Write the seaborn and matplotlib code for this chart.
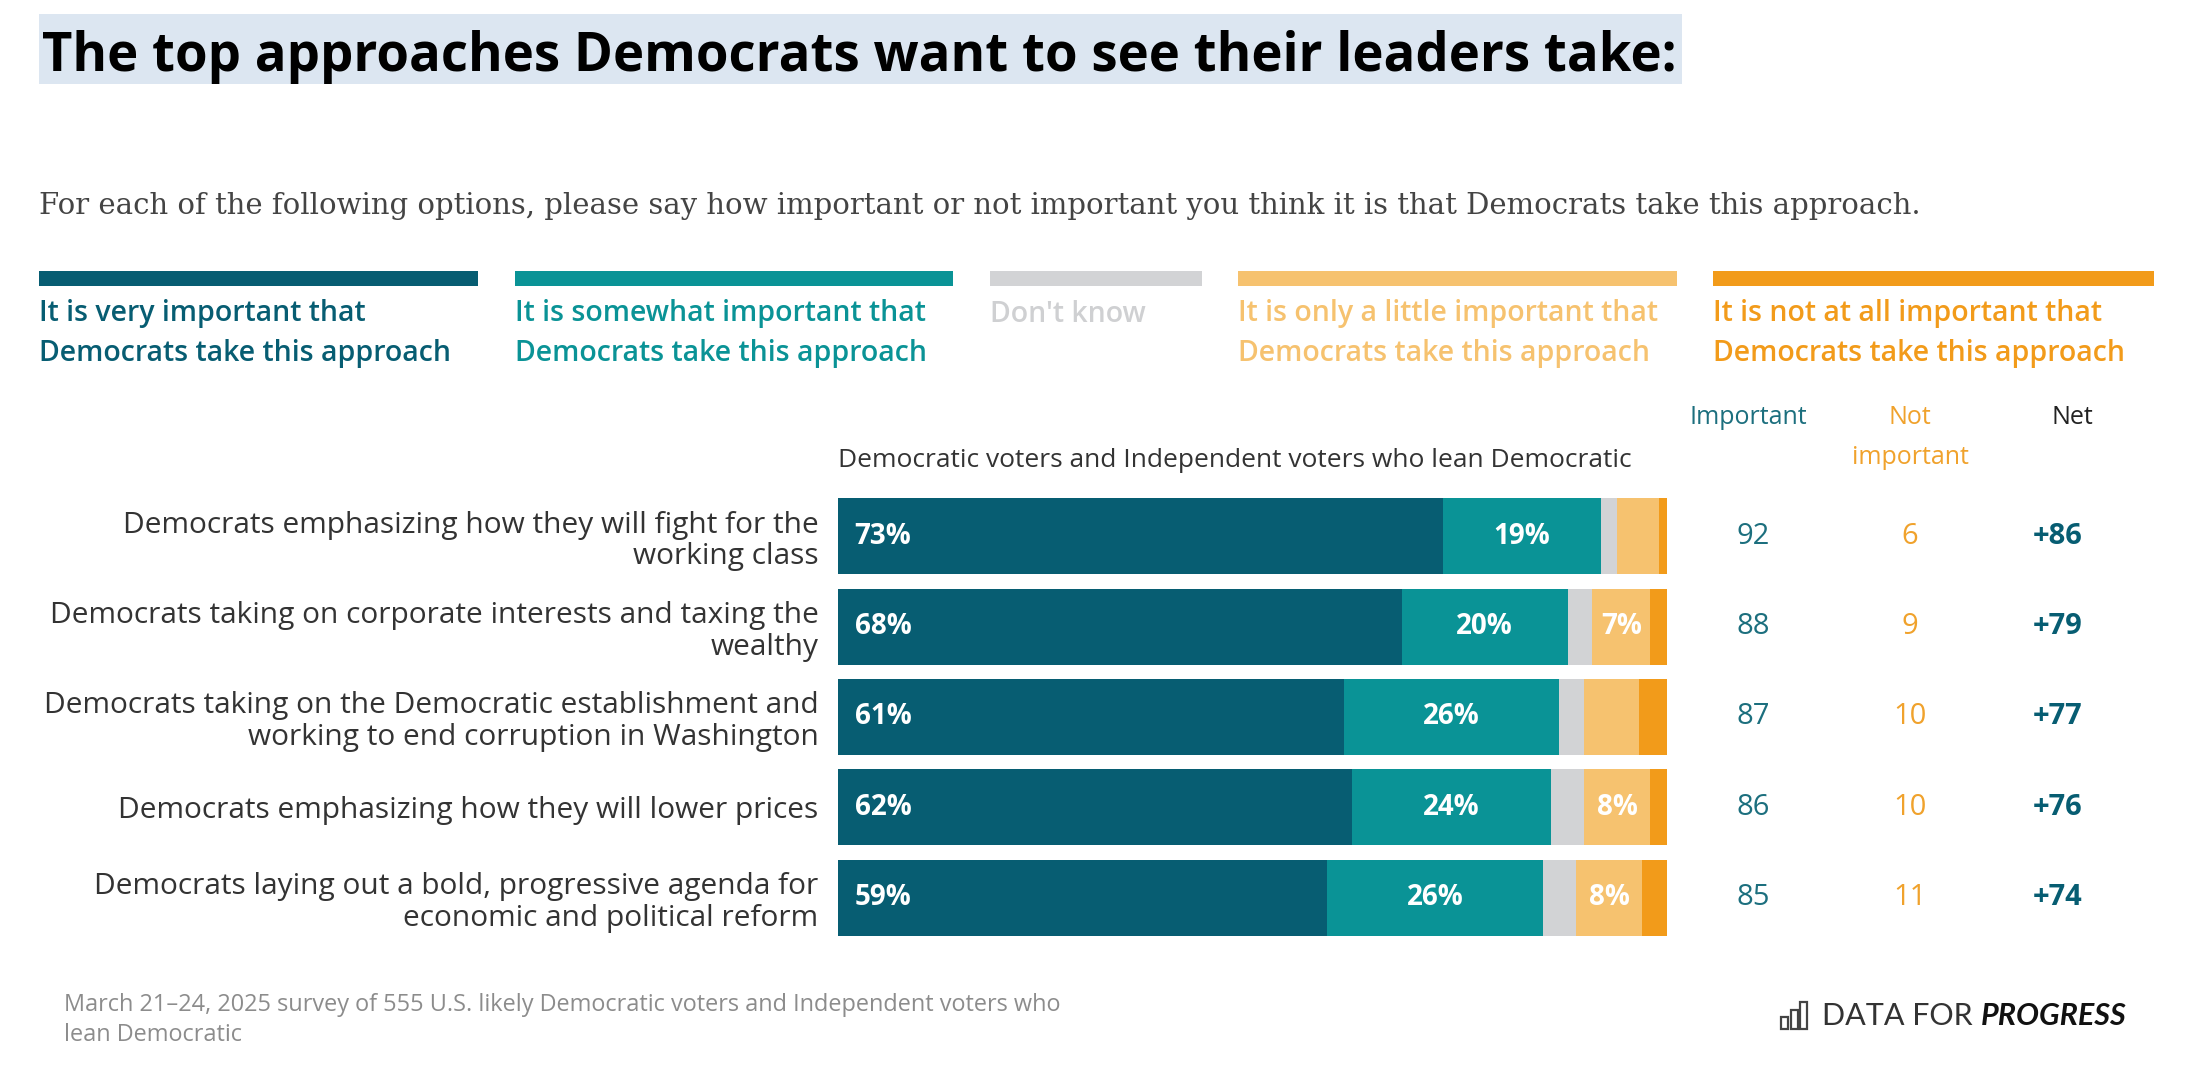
import matplotlib
matplotlib.use("Agg")
import matplotlib.pyplot as plt
import matplotlib.transforms as mtransforms
from matplotlib.patches import Rectangle
import numpy as np
import pandas as pd
import seaborn as sns

# ---------------------------------------------------------------------------
# data
# ---------------------------------------------------------------------------
categories = [
    "Democrats emphasizing how they will fight for the\nworking class",
    "Democrats taking on corporate interests and taxing the\nwealthy",
    "Democrats taking on the Democratic establishment and\nworking to end corruption in Washington",
    "Democrats emphasizing how they will lower prices",
    "Democrats laying out a bold, progressive agenda for\neconomic and political reform",
]
very_important = [73, 68, 61, 62, 59]
somewhat_important = [19, 20, 26, 24, 26]
dont_know = [2, 3, 3, 4, 4]
little_important = [5, 7, 6.6, 8, 8]
not_at_all = [1, 2, 3.4, 2, 3]

important_total = [92, 88, 87, 86, 85]
not_important_total = [6, 9, 10, 10, 11]
net = ["+86", "+79", "+77", "+76", "+74"]

legend_labels = [
    ("It is very important that", "Democrats take this approach"),
    ("It is somewhat important that", "Democrats take this approach"),
    ("Don't know", ""),
    ("It is only a little important that", "Democrats take this approach"),
    ("It is not at all important that", "Democrats take this approach"),
]

# ---------------------------------------------------------------------------
# style
# ---------------------------------------------------------------------------
DARK = "#075d72"
TEAL = "#0a9396"
GREY = "#d2d3d5"
LIGHT_OR = "#f6c26f"
ORANGE = "#f29b1a"
seg_colors = [DARK, TEAL, GREY, LIGHT_OR, ORANGE]
legend_text_colors = [DARK, TEAL, "#cfd0d2", LIGHT_OR, ORANGE]

sns.set_theme(style="white")
plt.rcParams["font.family"] = ["Open Sans", "DejaVu Sans"]

W, H = 2198, 1072
fig = plt.figure(figsize=(W / 100, H / 100), dpi=100)
fig.patch.set_facecolor("white")


def fx(px):
    return px / W


def fy(py):
    return 1 - py / H


# ---------------------------------------------------------------------------
# stacked bars (drawn as overlapping cumulative bars)
# ---------------------------------------------------------------------------
df = pd.DataFrame({
    "category": categories,
    "very": very_important,
    "somewhat": somewhat_important,
    "dk": dont_know,
    "little": little_important,
    "notatall": not_at_all,
})
series = ["very", "somewhat", "dk", "little", "notatall"]
cum = df[series].cumsum(axis=1)

ax = fig.add_axes([fx(838), fy(943), fx(1667 - 838), (943 - 491) / H])
for col, color in zip(reversed(series), reversed(seg_colors)):
    sns.barplot(data=cum.assign(category=df["category"]), x=col, y="category",
                color=color, orient="h", width=0.84, saturation=1,
                linewidth=0, ax=ax)

ax.set_xlim(0, 100)
ax.set_xlabel("")
ax.set_ylabel("")
ax.set_xticks([])
ax.tick_params(axis="y", length=0, pad=14, labelsize=21.5, labelcolor="#333333")
for lab in ax.get_yticklabels():
    lab.set_linespacing(1.12)
sns.despine(ax=ax, left=True, bottom=True)

# value labels inside bars
starts = cum.shift(1, axis=1).fillna(0)
for i in range(len(categories)):
    ax.text(2, i, f"{very_important[i]}%", color="white", fontsize=20,
            fontweight="bold", va="center", ha="left")
    mid = starts.loc[i, "somewhat"] + somewhat_important[i] / 2
    ax.text(mid, i, f"{somewhat_important[i]}%", color="white", fontsize=20,
            fontweight="bold", va="center", ha="center")
    if little_important[i] >= 7:
        mid = starts.loc[i, "little"] + little_important[i] / 2
        ax.text(mid, i, f"{little_important[i]:.0f}%", color="white",
                fontsize=20, fontweight="bold", va="center", ha="center")

# right-hand summary columns
tr = mtransforms.blended_transform_factory(fig.transFigure, ax.transData)
for i in range(len(categories)):
    ax.text(fx(1753), i, str(important_total[i]), transform=tr, ha="center",
            va="center", fontsize=21, color="#1c6f7e")
    ax.text(fx(1910), i, str(not_important_total[i]), transform=tr,
            ha="center", va="center", fontsize=21, color="#f0a22c")
    ax.text(fx(2058), i, net[i], transform=tr, ha="center", va="center",
            fontsize=21, fontweight="bold", color=DARK)

# ---------------------------------------------------------------------------
# title, subtitle, legend, headers, footer
# ---------------------------------------------------------------------------
fig.patches.append(Rectangle((fx(39), fy(84)), fx(1682 - 39), 70 / H,
                             transform=fig.transFigure, facecolor="#dce6f1",
                             edgecolor="none", zorder=0))
fig.text(fx(42), fy(57), "The top approaches Democrats want to see their leaders take:",
         fontsize=38, fontweight="bold", color="black", va="center", ha="left")

fig.text(fx(39), fy(206),
         "For each of the following options, please say how important or not "
         "important you think it is that Democrats take this approach.",
         fontsize=21, color="#444444", va="center", ha="left",
         family=["DejaVu Serif"])

leg_x = [(39, 478), (515, 953), (990, 1202), (1238, 1677), (1713, 2154)]
for (x0, x1), color, tcolor, (l1, l2) in zip(leg_x, seg_colors, legend_text_colors, legend_labels):
    fig.patches.append(Rectangle((fx(x0), fy(286)), fx(x1 - x0), 15 / H,
                                 transform=fig.transFigure, facecolor=color,
                                 edgecolor="none"))
    fig.text(fx(x0), fy(314), l1, fontsize=20.5, fontweight="semibold",
             color=tcolor, va="center", ha="left")
    if l2:
        fig.text(fx(x0), fy(353), l2, fontsize=20.5, fontweight="semibold",
                 color=tcolor, va="center", ha="left")

fig.text(fx(1748), fy(418), "Important", fontsize=18, color="#1c6f7e",
         ha="center", va="center")
fig.text(fx(1910), fy(418), "Not", fontsize=18, color="#f0a22c",
         ha="center", va="center")
fig.text(fx(1910), fy(457), "important", fontsize=18, color="#f0a22c",
         ha="center", va="center")
fig.text(fx(2072), fy(418), "Net", fontsize=18, color="#222222",
         ha="center", va="center")
fig.text(fx(838), fy(460), "Democratic voters and Independent voters who lean Democratic",
         fontsize=19, color="#333333", ha="left", va="center")

fig.text(fx(64), fy(1005),
         "March 21\u201324, 2025 survey of 555 U.S. likely Democratic voters and Independent voters who",
         fontsize=16.9, color="#8c8c8c", ha="left", va="center")
fig.text(fx(64), fy(1035), "lean Democratic", fontsize=16.9, color="#8c8c8c",
         ha="left", va="center")

# logo
for k, h in enumerate([12, 19, 27]):
    fig.patches.append(Rectangle((fx(1781 + k * 9.5), fy(1029)), fx(7), h / H,
                                 transform=fig.transFigure, facecolor="none",
                                 edgecolor="#444444", linewidth=1.6))
t1 = fig.text(fx(1822), fy(1016), "DATA FOR ", fontsize=22, fontweight="normal",
              color="#333333", ha="left", va="center", family=["Lato"])
ax.annotate("PROGRESS", xy=(1, 0.5), xycoords=t1, va="center", ha="left",
            fontsize=22, fontweight="bold", fontstyle="italic", color="#111111",
            family=["Lato"], annotation_clip=False)

fig.savefig("out.png", dpi=100, facecolor="white")
